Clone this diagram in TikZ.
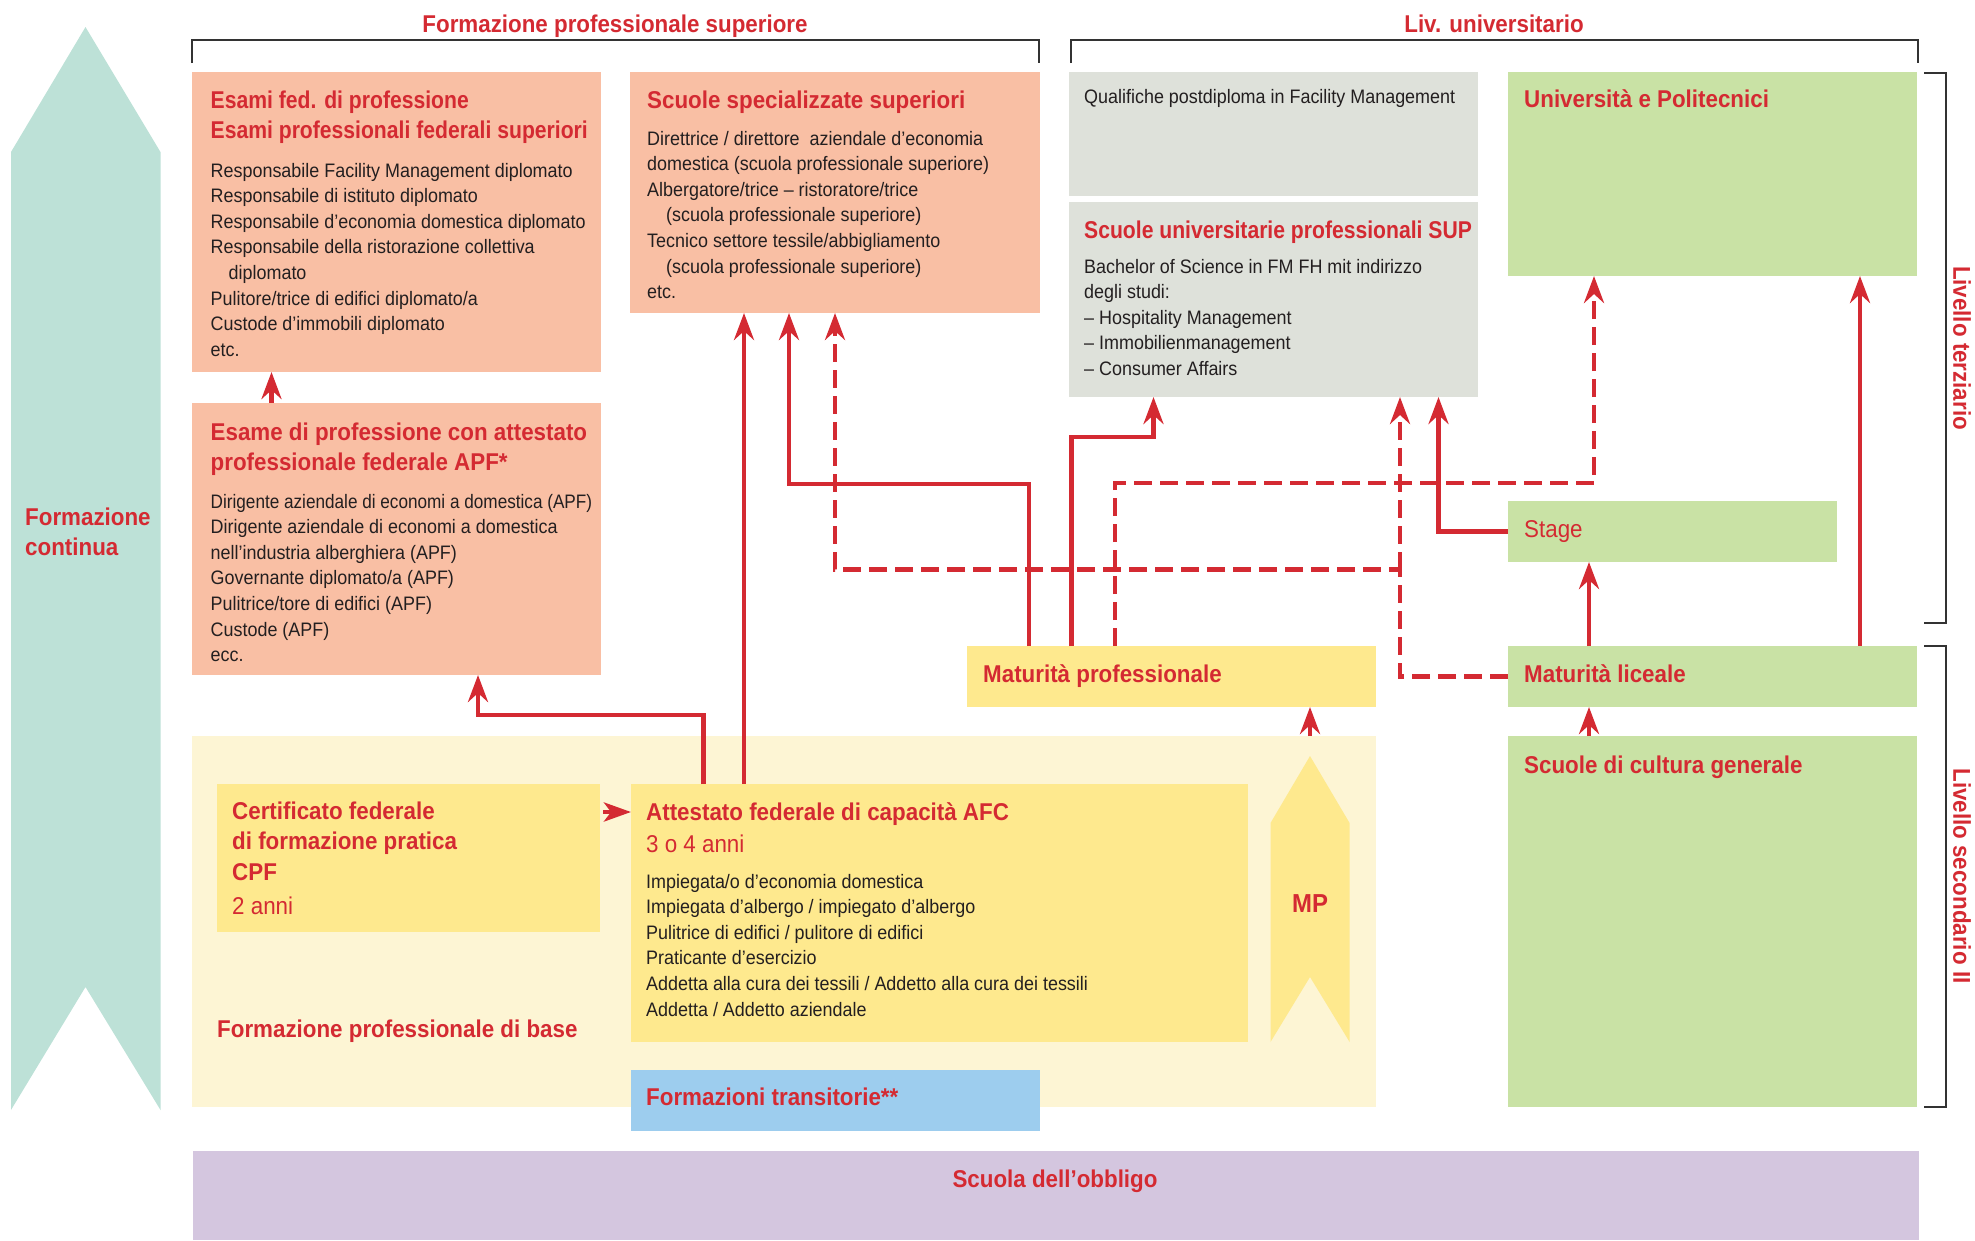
\documentclass[tikz,border=0pt]{standalone}
\usepackage{fontspec}
\setmainfont{Liberation Sans}[FakeStretch=0.92]
\newfontfamily\narrowsans{Liberation Sans}[FakeStretch=0.87]
\newfontfamily\squeezesans{Liberation Sans}[FakeStretch=0.88]
\usetikzlibrary{arrows.meta}
\definecolor{redc}{HTML}{D42A32}
\definecolor{salmonc}{HTML}{F9BFA4}
\definecolor{grayc}{HTML}{DEE1DA}
\definecolor{greenc}{HTML}{C9E2A5}
\definecolor{contc}{HTML}{BDE1D7}
\definecolor{lyellowc}{HTML}{FDF5D4}
\definecolor{yellowc}{HTML}{FEE98E}
\definecolor{bluec}{HTML}{9DCDEE}
\definecolor{purplec}{HTML}{D4C6DF}
\definecolor{txtc}{HTML}{231F20}
\definecolor{brkc}{HTML}{333333}
\newcommand{\lns}[1]{\parbox[t]{700pt}{\raggedright #1}}
\begin{document}
\begin{tikzpicture}[x=1pt,y=-1pt,
  box/.style={anchor=north west,inner sep=0pt,outer sep=0pt},
  ttl/.style={anchor=base west,inner sep=0pt,text=redc,font=\fontsize{24.3}{30.8}\selectfont\bfseries},
  nttl/.style={ttl,font=\fontsize{24.3}{30.8}\narrowsans\bfseries},
  bdy/.style={anchor=base west,inner sep=0pt,text=txtc,font=\fontsize{19.5}{25.6}\selectfont},
  rtx/.style={anchor=base west,inner sep=0pt,text=redc,font=\fontsize{24.3}{30}\selectfont},
  arr/.style={draw=redc,line width=4.5pt,-{Stealth[length=27pt,width=20pt,inset=9pt]}},
  dsh/.style={arr,dash pattern=on 18pt off 8pt},
  brk/.style={draw=brkc,line width=1.4pt}]
\useasboundingbox (0,0) rectangle (1975,1240);
% continuing education arrow
\fill[contc] (85.5,27) -- (160.5,152) -- (160.5,1110) -- (85.5,987) -- (11,1110) -- (11,152) -- cycle;
\node[ttl] (fc) at (25,525) {\lns{Formazione\\continua}};
% brackets
\draw[brk] (192,63) -- (192,40) -- (1039,40) -- (1039,63);
\draw[brk] (1071,63) -- (1071,40) -- (1918,40) -- (1918,63);
\draw[brk] (1924,73) -- (1946,73) -- (1946,623) -- (1924,623);
\draw[brk] (1924,646) -- (1946,646) -- (1946,1107) -- (1924,1107);
\node[ttl,anchor=base] (h1) at (615,32) {Formazione professionale superiore};
\node[ttl,anchor=base] (h2) at (1494,32) {Liv. universitario};
\node[ttl,anchor=center,rotate=-90] (lt) at (1962,348) {Livello terziario};
\node[ttl,anchor=center,rotate=-90] (ls) at (1962,876) {Livello secondario II};
% boxes
\node[box,fill=salmonc,minimum width=409pt,minimum height=300pt] (esami) at (192,72) {};
\node[box,fill=salmonc,minimum width=409pt,minimum height=272pt] (apf) at (192,403) {};
\node[box,fill=salmonc,minimum width=410pt,minimum height=241pt] (ssup) at (630,72) {};
\node[box,fill=grayc,minimum width=409pt,minimum height=124pt] (qual) at (1069,72) {};
\node[box,fill=grayc,minimum width=409pt,minimum height=195pt] (sup) at (1069,202) {};
\node[box,fill=greenc,minimum width=409pt,minimum height=204pt] (univ) at (1508,72) {};
\node[box,fill=greenc,minimum width=329pt,minimum height=61pt] (stage) at (1508,501) {};
\node[box,fill=yellowc,minimum width=409pt,minimum height=61pt] (matprof) at (967,646) {};
\node[box,fill=greenc,minimum width=409pt,minimum height=61pt] (matlic) at (1508,646) {};
\node[box,fill=greenc,minimum width=409pt,minimum height=371pt] (cult) at (1508,736) {};
\node[box,fill=lyellowc,minimum width=1184pt,minimum height=371pt] (base) at (192,736) {};
\node[box,fill=yellowc,minimum width=383pt,minimum height=148pt] (cpf) at (217,784) {};
\node[box,fill=yellowc,minimum width=617pt,minimum height=258pt] (afc) at (631,784) {};
\node[box,fill=bluec,minimum width=409pt,minimum height=61pt] (trans) at (631,1070) {};
\node[box,fill=purplec,minimum width=1726pt,minimum height=89pt] (obbligo) at (193,1151) {};
\fill[yellowc] (1310,756) -- (1349.6,823) -- (1349.6,1042) -- (1310,977) -- (1270.5,1042) -- (1270.5,823) -- cycle;
% texts
\node[nttl] (t1) at (210.5,108) {\lns{Esami fed. di professione\\Esami professionali federali superiori}};
\node[bdy] (b1) at (210.5,177) {\lns{Responsabile Facility Management diplomato\\Responsabile di istituto diplomato\\Responsabile d’economia domestica diplomato\\Responsabile della ristorazione collettiva\\\hspace*{18pt}diplomato\\Pulitore/trice di edifici diplomato/a\\Custode d’immobili diplomato\\etc.}};
\node[ttl] (t2) at (210.5,440) {\lns{Esame di professione con attestato\\professionale federale APF*}};
\node[bdy] (b2) at (210.5,508) {\lns{{\squeezesans Dirigente aziendale di economi a domestica (APF)}\\Dirigente aziendale di economi a domestica\\nell'industria alberghiera (APF)\\Governante diplomato/a (APF)\\Pulitrice/tore di edifici (APF)\\Custode (APF)\\ecc.}};
\node[ttl] (t3) at (647,108) {Scuole specializzate superiori};
\node[bdy] (b3) at (647,145) {\lns{Direttrice / direttore \ aziendale d’economia\\domestica (scuola professionale superiore)\\Albergatore/trice – ristoratore/trice\\\hspace*{19pt}(scuola professionale superiore)\\Tecnico settore tessile/abbigliamento\\\hspace*{19pt}(scuola professionale superiore)\\etc.}};
\node[bdy] (b4) at (1084,103) {Qualifiche postdiploma in Facility Management};
\node[nttl] (t5) at (1084,238) {Scuole universitarie professionali SUP};
\node[bdy] (b5) at (1084,273) {\lns{Bachelor of Science in FM FH mit indirizzo\\degli studi:\\– Hospitality Management\\– Immobilienmanagement\\– Consumer Affairs}};
\node[ttl] (t6) at (1524,107) {Università e Politecnici};
\node[rtx] (t7) at (1524,537) {Stage};
\node[ttl] (t8) at (983,682) {Maturità professionale};
\node[ttl] (t9) at (1524,682) {Maturità liceale};
\node[ttl] (t10) at (1524,773) {Scuole di cultura generale};
\node[ttl] (t11) at (232,819) {\lns{Certificato federale\\di formazione pratica\\CPF}};
\node[rtx] (t11b) at (232,914) {2 anni};
\node[ttl] (t12) at (217,1037) {Formazione professionale di base};
\node[ttl] (t13) at (646,820) {Attestato federale di capacità AFC};
\node[rtx] (t13b) at (646,852) {3 o 4 anni};
\node[bdy] (b13) at (646,888) {\lns{Impiegata/o d’economia domestica\\Impiegata d’albergo / impiegato d’albergo\\Pulitrice di edifici / pulitore di edifici\\Praticante d’esercizio\\Addetta alla cura dei tessili / Addetto alla cura dei tessili\\Addetta / Addetto aziendale}};
\node[ttl] (t14) at (646,1105) {Formazioni transitorie**};
\node[ttl,anchor=base,font=\fontsize{26}{30}\selectfont\bfseries] (mp) at (1310,912) {MP};
\node[ttl,anchor=base] (t15) at (1055,1187) {Scuola dell’obbligo};
% connectors
\draw[arr] ([xshift=79.5pt]apf.north west) -- ([xshift=79.5pt]esami.south west);
\draw[arr] ([xshift=72.5pt]afc.north west) -- ++(0,-69) -| ([xshift=286pt]apf.south west);
\draw[arr] ([xshift=113pt]afc.north west) -- ([xshift=114pt]ssup.south west);
\draw[arr] ([xshift=62pt]matprof.north west) -- ++(0,-162) -| ([xshift=159pt]ssup.south west);
\draw[dsh] (matlic.west) -- ++(-108,0) -- ++(0,-107) coordinate (dj) -| ([xshift=205pt]ssup.south west);
\draw[dsh] (dj) -- ([xshift=331pt]sup.south west);
\draw[arr] ([xshift=104.5pt]matprof.north west) -- ++(0,-209) -| ([xshift=84.5pt]sup.south west);
\draw[dsh] ([xshift=148pt]matprof.north west) -- ++(0,-163) -| ([xshift=86pt]univ.south west);
\draw[arr] (stage.west) -| ([xshift=369.5pt]sup.south west);
\draw[arr] ([xshift=81pt]matlic.north west) -- ([xshift=81pt]stage.south west);
\draw[arr] ([xshift=81pt]cult.north west) -- ([xshift=81pt]matlic.south west);
\draw[arr] ([xshift=352pt]matlic.north west) -- ([xshift=352pt]univ.south west);
\draw[arr] ([xshift=1118pt]base.north west) -- ([xshift=343pt]matprof.south west);
\draw[arr,-{Stealth[length=27pt,width=19pt,inset=7pt]}] ([xshift=3pt,yshift=-28pt]cpf.north east) -- ([yshift=-28pt]afc.north west);
\end{tikzpicture}
\end{document}
